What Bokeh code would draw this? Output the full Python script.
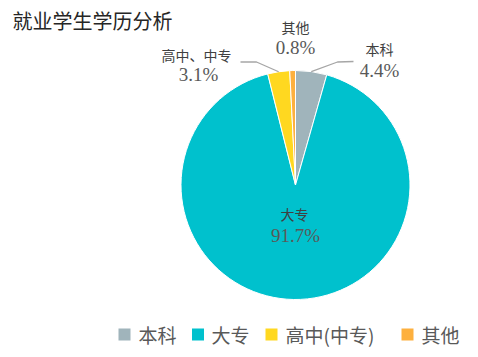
import math
from bokeh.plotting import figure
from bokeh.models import Range1d, ColumnDataSource
from bokeh.core.properties import value
from bokeh.embed import file_html
from bokeh.resources import INLINE

# ---- data ----
title_text = "就业学生学历分析"
categories = ["本科", "大专", "高中、中专", "其他"]
legend_labels = ["本科", "大专", "高中(中专)", "其他"]
values = [4.4, 91.7, 3.1, 0.8]
colors = ["#A0B4BB", "#00C1CD", "#FFD820", "#FDB03E"]

# ---- layout (pixel coordinates, y measured from top) ----
W, H = 478, 357
CX, CY, R = 295.0, 184.5, 114.5
CJK = "Noto Sans CJK SC"
NUM = "Liberation Serif"
label_name_pos = [(379, 48), (294, 213), (196, 54), (295, 26)]
label_num_pos = [(379, 70), (295, 235), (198, 74), (295, 47)]
leader_elbow = [(337, 61.5), None, (256, 61.5), None]
leader_end = [(353, 61), None, (240, 61.5), None]
legend_sq_x = [124, 197.5, 271, 407]
legend_txt_x = [138, 211, 285, 421]
legend_y = 334


def Y(y):
    return H - y


p = figure(width=W, height=H, output_backend="svg", toolbar_location=None,
           x_range=Range1d(0, W), y_range=Range1d(0, H), min_border=0)
p.axis.visible = False
p.grid.visible = False
p.outline_line_color = None
p.background_fill_color = "white"
p.border_fill_color = "white"

# wedges: start at 12 o'clock, clockwise
total = sum(values)
starts, ends, mids = [], [], []
cum = 0.0
for v in values:
    a0 = math.pi / 2 - 2 * math.pi * (cum + v) / total
    a1 = math.pi / 2 - 2 * math.pi * cum / total
    starts.append(a0)
    ends.append(a1)
    mids.append((a0 + a1) / 2)
    cum += v

src = ColumnDataSource(dict(x=[CX] * len(values), y=[Y(CY)] * len(values),
                            start=starts, end=ends, color=colors))
p.wedge(x="x", y="y", radius=R, start_angle="start", end_angle="end",
        fill_color="color", line_color="white", line_width=1, source=src)

# leader lines
for i in range(len(values)):
    if leader_elbow[i] is None:
        continue
    sx = CX + R * math.cos(mids[i])
    sy = CY - R * math.sin(mids[i])
    ex, ey = leader_elbow[i]
    fx, fy = leader_end[i]
    p.line([sx, ex, fx], [Y(sy), Y(ey), Y(fy)], line_color="#A6A6A6", line_width=1.3)

# data labels
p.text(x=[q[0] for q in label_name_pos], y=[Y(q[1]) for q in label_name_pos],
       text=categories, text_font=value(CJK), text_font_size="14px",
       text_color="#404040", text_align="center", text_baseline="middle")
p.text(x=[q[0] for q in label_num_pos], y=[Y(q[1]) for q in label_num_pos],
       text=[f"{v:.1f}%" for v in values], text_font=value(NUM), text_font_size="19px",
       text_color="#595959", text_align="center", text_baseline="middle")

# title
p.text(x=[12], y=[Y(20)], text=[title_text], text_font=value(CJK), text_font_size="20px",
       text_color="#262626", text_align="left", text_baseline="middle")

# legend
p.rect(x=legend_sq_x, y=[Y(legend_y)] * len(colors), width=12, height=12,
       fill_color=colors, line_color=None)
p.text(x=legend_txt_x, y=[Y(legend_y)] * len(legend_labels), text=legend_labels,
       text_font=value(CJK), text_font_size="19px", text_color="#595959",
       text_align="left", text_baseline="middle")

open("out.html", "w").write(file_html(p, INLINE))
